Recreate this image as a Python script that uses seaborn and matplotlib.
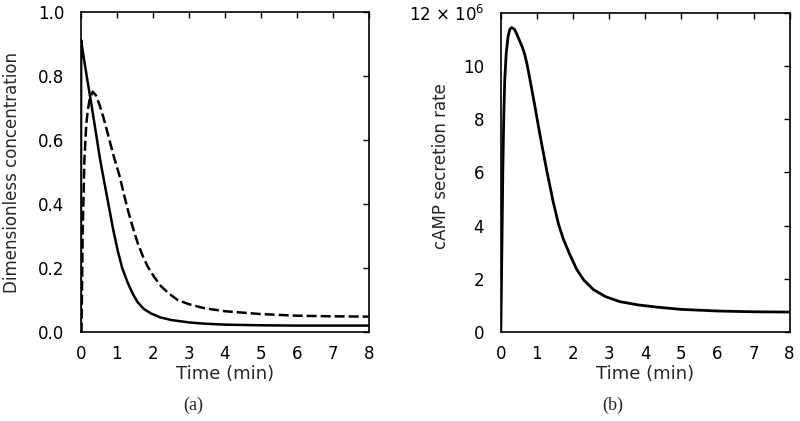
import numpy as np
import pandas as pd
import matplotlib
matplotlib.use("Agg")
import matplotlib.pyplot as plt
import seaborn as sns

# ---- data ----
t_solid = [0, 0.01, 0.05, 0.1, 0.2, 0.29, 0.36, 0.43, 0.52, 0.6, 0.75, 0.9, 1.03, 1.15, 1.31, 1.45, 1.58, 1.75, 1.95, 2.2, 2.51, 3.0, 3.44, 4.0, 5.0, 6.0, 7.0, 8.0]
c_solid = [0, 0.912, 0.88, 0.845, 0.775, 0.715, 0.665, 0.615, 0.55, 0.50, 0.41, 0.32, 0.252, 0.20, 0.152, 0.118, 0.093, 0.072, 0.058, 0.046, 0.0375, 0.030, 0.026, 0.023, 0.021, 0.020, 0.020, 0.020]

t_dash = [0, 0.02, 0.05, 0.1, 0.15, 0.19, 0.25, 0.33, 0.42, 0.52, 0.63, 0.75, 0.9, 1.07, 1.2, 1.31, 1.45, 1.58, 1.72, 1.86, 2.05, 2.23, 2.45, 2.69, 3.0, 3.44, 4.0, 5.0, 6.0, 7.0, 8.0]
c_dash = [0, 0, 0.30, 0.54, 0.645, 0.69, 0.73, 0.751, 0.74, 0.71, 0.67, 0.62, 0.555, 0.49, 0.43, 0.38, 0.325, 0.278, 0.238, 0.204, 0.17, 0.143, 0.12, 0.10, 0.087, 0.074, 0.065, 0.056, 0.051, 0.049, 0.048]

t_camp = [0, 0.02, 0.04, 0.055, 0.08, 0.11, 0.15, 0.2, 0.25, 0.3, 0.38, 0.45, 0.52, 0.6, 0.66, 0.73, 0.8, 0.93, 1.1, 1.27, 1.45, 1.6, 1.73, 1.9, 2.1, 2.3, 2.56, 2.9, 3.3, 3.8, 4.36, 5.0, 6.0, 7.0, 8.0]
r_camp = [0, 2.0, 4.2, 5.97, 7.97, 9.5, 10.48, 11.1, 11.38, 11.45, 11.38, 11.18, 10.95, 10.7, 10.45, 10.05, 9.55, 8.6, 7.3, 6.09, 4.9, 4.05, 3.5, 2.95, 2.36, 1.95, 1.6, 1.33, 1.14, 1.02, 0.93, 0.85, 0.79, 0.76, 0.75]

x_ticks = [0, 1, 2, 3, 4, 5, 6, 7, 8]
y_ticks_a = [0.0, 0.2, 0.4, 0.6, 0.8, 1.0]
y_labels_a = ["0.0", "0.2", "0.4", "0.6", "0.8", "1.0"]
y_ticks_b = [0, 2, 4, 6, 8, 10, 12]
y_labels_b = ["0", "2", "4", "6", "8", "10", "12 × 10$^6$"]

sns.set_style("white")
plt.rcParams["font.family"] = ["DejaVu Sans"]
plt.rcParams["mathtext.fontset"] = "dejavusans"

fig = plt.figure(figsize=(8.0, 4.21), dpi=100)
ax1 = fig.add_axes([0.101, 0.2114, 0.360, 0.760])
ax2 = fig.add_axes([0.626, 0.2114, 0.361, 0.758])

df_a1 = pd.DataFrame({"t": t_solid, "c": c_solid})
df_a2 = pd.DataFrame({"t": t_dash, "c": c_dash})
df_b = pd.DataFrame({"t": t_camp, "r": r_camp})

sns.lineplot(data=df_a1, x="t", y="c", ax=ax1, color="black", lw=1.8)
sns.lineplot(data=df_a2, x="t", y="c", ax=ax1, color="black", lw=1.8, linestyle=(0, (4, 1.6)))
sns.lineplot(data=df_b, x="t", y="r", ax=ax2, color="black", lw=2.0)

fs = 12
for ax in (ax1, ax2):
    ax.set_xlim(0, 8)
    ax.set_xticks(x_ticks)
    ax.set_xticklabels([str(v) for v in x_ticks])
    ax.tick_params(axis="both", direction="in", length=4, width=1.0, colors="black",
                   top=True, right=True, labelsize=fs)
    ax.tick_params(axis="y", pad=12)
    ax.tick_params(axis="x", pad=9)
    for s in ax.spines.values():
        s.set_visible(True)
        s.set_color("black")
        s.set_linewidth(1.2)
    ax.set_xlabel("Time (min)", fontsize=13, labelpad=2)

ax1.set_ylim(0, 1.0)
ax1.set_yticks(y_ticks_a)
ax1.set_yticklabels(y_labels_a)
ax1.set_ylabel("Dimensionless concentration", fontsize=fs)
ax1.yaxis.set_label_coords(-0.208, 0.5)

ax2.set_ylim(0, 12)
ax2.set_yticks(y_ticks_b)
ax2.set_yticklabels(y_labels_b)
ax2.set_ylabel("cAMP secretion rate", fontsize=fs)
ax2.yaxis.set_label_coords(-0.175, 0.52)

fig.text(0.241, 0.038, "(a)", ha="center", va="center", fontsize=13, family="Liberation Serif")
fig.text(0.766, 0.038, "(b)", ha="center", va="center", fontsize=13, family="Liberation Serif")

fig.savefig("out.png", dpi=100, facecolor="white")
